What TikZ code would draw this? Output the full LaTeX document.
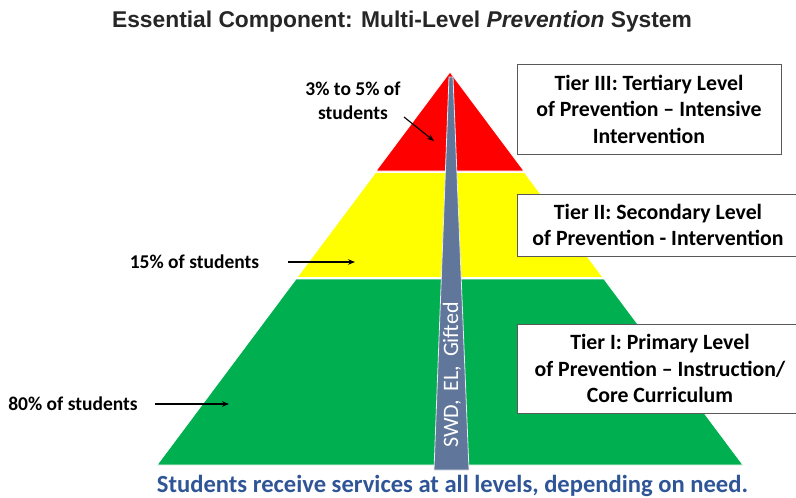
\documentclass[tikz,border=0pt]{standalone}
\usepackage{fontspec}
\setmainfont{Carlito}
\newfontfamily\titlefont{Liberation Sans}
\usetikzlibrary{arrows.meta}
\definecolor{tred}{HTML}{FF0000}
\definecolor{tyellow}{HTML}{FFFF00}
\definecolor{tgreen}{HTML}{00B050}
\definecolor{wedgec}{HTML}{60769A}
\definecolor{bluetxt}{HTML}{2F5597}
\definecolor{titlec}{HTML}{262626}
\definecolor{boxline}{HTML}{595959}
\tikzset{
  layer/.style={draw=white,line width=0.8pt},
  tierbox/.style={draw=boxline,line width=1pt,fill=white,align=center,
    font=\fontsize{21.8}{26.5}\selectfont\bfseries,inner sep=0pt},
  pctlabel/.style={font=\fontsize{19.5}{23.5}\selectfont\bfseries,align=center,inner sep=0pt},
  pointer/.style={-{Stealth[length=7pt,width=5.5pt]},line width=1.1pt},
}
\begin{document}
\begin{tikzpicture}[x=1pt,y=-1pt]
\useasboundingbox (0,0) rectangle (796,498);
\clip (0,0) rectangle (796,498);
\fill[white] (0,0) rectangle (796,498);
% title
\node[font=\titlefont\fontsize{22.8}{26}\selectfont\bfseries,text=titlec,inner sep=0pt] (title) at (402,22)
  {Essential Component: Multi-Level \textit{Prevention} System};
% pyramid
\fill[tgreen,layer] (157,465) -- (296,279) -- (604,279) -- (743,465) -- cycle;
\fill[tyellow,layer] (297,277.5) -- (375.5,172.5) -- (524.5,172.5) -- (603,277.5) -- cycle;
\fill[tred,layer] (376,171) -- (450,72) -- (524,171) -- cycle;
% wedge
\filldraw[fill=wedgec,draw=white!85!wedgec,line width=0.8pt] (449,77) -- (453,77) -- (469,470) -- (434,470) -- cycle;
\node[rotate=90,text=white,font=\fontsize{22}{26}\selectfont,inner sep=0pt] (groups) at (452,375) {SWD,\, EL,\, Gifted};
% tier boxes
\node[tierbox,minimum width=264,minimum height=90] (t3) at (649,109)
  {Tier III: Tertiary Level\\of Prevention -- Intensive\\Intervention};
\node[tierbox,minimum width=282,minimum height=62] (t2) at (658,225)
  {Tier II: Secondary Level\\of Prevention - Intervention};
\node[tierbox,minimum width=286,minimum height=89] (t1) at (660,368.5)
  {Tier I: Primary Level\\of Prevention -- Instruction/\\Core Curriculum};
% percentage labels
\node[pctlabel] (p3) at (353,101) {3\% to 5\% of\\students};
\node[pctlabel] (p2) at (194.5,262) {15\% of students};
\node[pctlabel] (p1) at (73,404) {80\% of students};
\coordinate (a3s) at (404,117);
\coordinate (a3e) at (434,141);
\coordinate (a2s) at (288,262);
\coordinate (a2e) at (355,262);
\coordinate (a1s) at (155,404);
\coordinate (a1e) at (229,404);
\draw[pointer] (a3s) -- (a3e);
\draw[pointer] (a2s) -- (a2e);
\draw[pointer] (a1s) -- (a1e);
% bottom statement
\node[text=bluetxt,font=\fontsize{24.6}{28}\selectfont\bfseries,inner sep=0pt] (bottom) at (452.5,486)
  {Students receive services at all levels, depending on need.};
\end{tikzpicture}
\end{document}
